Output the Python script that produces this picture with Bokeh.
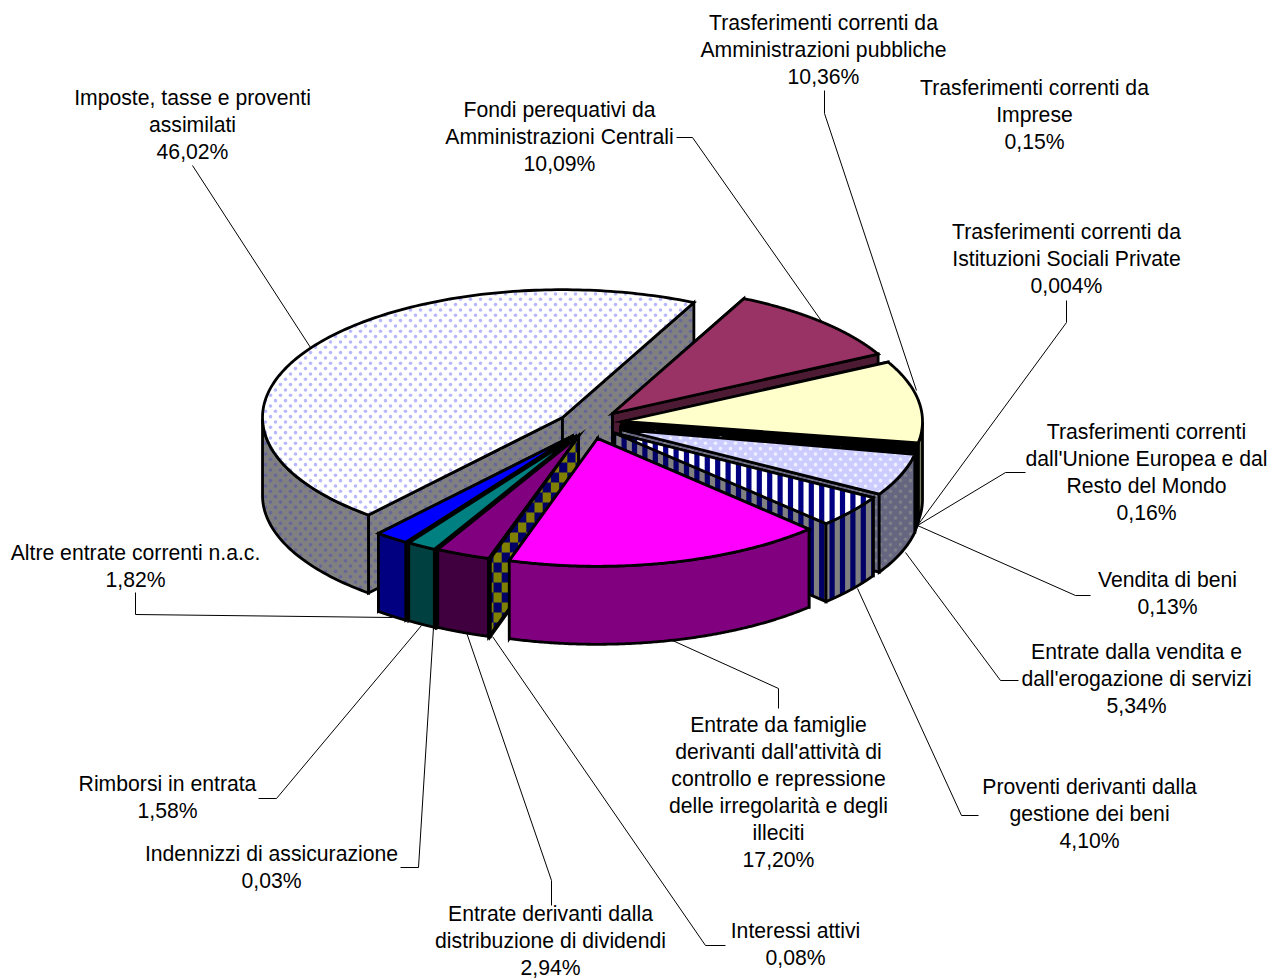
import numpy as np
from bokeh.plotting import figure
from bokeh.embed import file_html
from bokeh.resources import INLINE
from bokeh.core.properties import value

# ---- data
categories = ["Imposte, tasse e proventi assimilati",
              "Fondi perequativi da Amministrazioni Centrali",
              "Trasferimenti correnti da Amministrazioni pubbliche",
              "Trasferimenti correnti da Imprese",
              "Trasferimenti correnti da Istituzioni Sociali Private",
              "Trasferimenti correnti dall'Unione Europea e dal Resto del Mondo",
              "Vendita di beni",
              "Entrate dalla vendita e dall'erogazione di servizi",
              "Proventi derivanti dalla gestione dei beni",
              "Entrate da famiglie derivanti dall'attività di controllo e repressione delle irregolarità e degli illeciti",
              "Interessi attivi",
              "Entrate derivanti dalla distribuzione di dividendi",
              "Indennizzi di assicurazione",
              "Rimborsi in entrata",
              "Altre entrate correnti n.a.c."]
shares = [46.02, 10.09, 10.36, 0.15, 0.004, 0.16, 0.13, 5.34, 4.10, 17.20, 0.08, 2.94, 0.03, 1.58, 1.82]
share_labels = ["46,02%", "10,09%", "10,36%", "0,15%", "0,004%", "0,16%", "0,13%", "5,34%", "4,10%",
                "17,20%", "0,08%", "2,94%", "0,03%", "1,58%", "1,82%"]

# ---- layout (pixel coordinates of the page)
label_lines = [["Imposte, tasse e proventi", "assimilati"],
               ["Fondi perequativi da", "Amministrazioni Centrali"],
               ["Trasferimenti correnti da", "Amministrazioni pubbliche"],
               ["Trasferimenti correnti da", "Imprese"],
               ["Trasferimenti correnti da", "Istituzioni Sociali Private"],
               ["Trasferimenti correnti", "dall'Unione Europea e dal", "Resto del Mondo"],
               ["Vendita di beni"],
               ["Entrate dalla vendita e", "dall'erogazione di servizi"],
               ["Proventi derivanti dalla", "gestione dei beni"],
               ["Entrate da famiglie", "derivanti dall'attività di", "controllo e repressione", "delle irregolarità e degli", "illeciti"],
               ["Interessi attivi"],
               ["Entrate derivanti dalla", "distribuzione di dividendi"],
               ["Indennizzi di assicurazione"],
               ["Rimborsi in entrata"],
               ["Altre entrate correnti n.a.c."]]
label_cx = [192, 559, 823, 1034, 1066, 1146, 1167, 1136, 1089, 778, 795, 550, 271, 167, 135]
label_top = [97, 109, 22, 87, 231, 431, 579, 651, 786, 724, 930, 913, 853, 783, 552]
LINE_H = 26.9
leaders = [[(192, 165), (310, 347)],
           [(676, 137), (692, 137), (822, 322)],
           [(824, 90), (824, 113), (916, 390)],
           None,
           [(1066, 300), (1066, 322), (917, 525)],
           [(1025, 472), (1005, 472), (917, 525)],
           [(1090, 595), (1075, 595), (917, 525)],
           [(1018, 680), (1000, 680), (905, 552)],
           [(978, 815), (961, 815), (857, 588)],
           [(778, 708), (778, 688), (672, 640)],
           [(725, 945), (705, 945), (492, 636)],
           [(551, 905), (551, 880), (466, 632)],
           [(400, 867), (418, 867), (433, 627)],
           [(258, 798), (276, 798), (421, 625)],
           [(135, 592), (135, 614), (392, 617)]]
apex = [(562, 417), (612, 413), (622, 421), (621.5, 423), (621, 424.5), (620.5, 426), (620, 427.5),
        (620, 429), (614, 432.5), (597, 438), (578, 436), (578, 436), (577, 436), (575, 436), (572, 435.5)]
RX, RY, DEPTH = 300.0, 127.8, 78.0
START_ANGLE = 229.7
paint_order = [0, 1, 2, 3, 4, 5, 6, 7, 8, 14, 13, 12, 11, 10, 9]

# (top fill, top pattern, top pattern colour, side fill, side pattern, side pattern colour)
styles = [("#FFFFFF", "dots", "#B8B8FC", "#808080", "dots", "#66669A"),
          ("#993366", None, None, "#4D1A33", None, None),
          ("#FFFFCC", None, None, "#808066", None, None),
          ("#000000", None, None, "#000000", None, None),
          ("#000000", None, None, "#000000", None, None),
          ("#000000", None, None, "#000000", None, None),
          ("#000000", None, None, "#000000", None, None),
          ("#CCCCFF", "dots", "#F0F0FF", "#666680", "dots", "#808088"),
          ("#FFFFFF", "stripes", "#000080", "#808080", "stripes", "#000066"),
          ("#FF00FF", None, None, "#800080", None, None),
          ("#000080", "check", "#808000", "#000066", "check", "#808000"),
          ("#800080", None, None, "#400040", None, None),
          ("#000000", None, None, "#000000", None, None),
          ("#008080", None, None, "#004040", None, None),
          ("#0000FF", None, None, "#000080", None, None)]

p = figure(width=1272, height=980, x_range=(0, 1272), y_range=(980, 0), output_backend="svg",
           toolbar_location=None, min_border=0, outline_line_color=None, background_fill_color="white")
p.axis.visible = False
p.grid.visible = False


def clip_rect(xs, ys, x0, x1, y0, y1):
    """Sutherland-Hodgman clip of a polygon to a rectangle."""
    pts = list(zip(xs, ys))
    for axis, lim, keep_less in ((0, x0, False), (0, x1, True), (1, y0, False), (1, y1, True)):
        out = []
        for k in range(len(pts)):
            a, b = pts[k - 1], pts[k]
            ia = a[axis] <= lim if keep_less else a[axis] >= lim
            ib = b[axis] <= lim if keep_less else b[axis] >= lim
            if ia != ib:
                f = (lim - a[axis]) / (b[axis] - a[axis])
                out.append((a[0] + f * (b[0] - a[0]), a[1] + f * (b[1] - a[1])))
            if ib:
                out.append(b)
        pts = out
        if not pts:
            return None
    return [q[0] for q in pts], [q[1] for q in pts]


def inside(px, py, xs, ys):
    xs, ys = np.asarray(xs), np.asarray(ys)
    x2, y2 = np.roll(xs, 1), np.roll(ys, 1)
    c = np.zeros(px.shape, dtype=bool)
    for a, b, d, e in zip(xs, ys, x2, y2):
        if b == e:
            continue
        c ^= ((b > py) != (e > py)) & (px < (d - a) * (py - b) / (e - b) + a)
    return c


def draw(xs, ys, fill, pattern, color):
    xs, ys = np.asarray(xs, float), np.asarray(ys, float)
    p.patch(xs, ys, fill_color=fill, line_color=None)
    x0, x1, y0, y1 = xs.min(), xs.max(), ys.min(), ys.max()
    if pattern == "dots":
        gx, gy = [], []
        rows = np.arange(np.floor(y0 / 10.67) * 10.67, y1 + 11, 5.335)
        for r, yy in enumerate(rows):
            off = 5 * (round((yy) / 5.335) % 2)
            for xx in np.arange(np.floor(x0 / 10) * 10 + off, x1 + 10, 10):
                gx.append(xx); gy.append(yy)
        gx, gy = np.array(gx), np.array(gy)
        m = inside(gx, gy, xs, ys)
        if m.any():
            p.scatter(gx[m], gy[m], size=3.6, marker="circle", fill_color=color, line_color=None)
    elif pattern == "stripes":
        k0 = int(np.floor((x0 - 790) / 10.4)) - 1
        while 790 + k0 * 10.4 < x1 + 5:
            c = 790 + k0 * 10.4
            r = clip_rect(xs, ys, c - 2.6, c + 2.6, y0 - 1, y1 + 1)
            if r and len(r[0]) > 2:
                p.patch(r[0], r[1], fill_color=color, line_color=None)
            k0 += 1
    elif pattern == "check":
        W, H = 8.2, 10.0
        for ci in range(int(np.floor((x0 - 493) / W)), int(np.ceil((x1 - 493) / W)) + 1):
            for ri in range(int(np.floor((y0 - 572) / H)), int(np.ceil((y1 - 572) / H)) + 1):
                if (ci + ri) % 2 == 0:
                    r = clip_rect(xs, ys, 493 + ci * W, 493 + (ci + 1) * W, 572 + ri * H, 572 + (ri + 1) * H)
                    if r and len(r[0]) > 2:
                        p.patch(r[0], r[1], fill_color=color, line_color=None)
    p.patch(xs, ys, fill_color=None, line_color="black", line_width=2.8, line_join="miter")


ends = START_ANGLE - np.cumsum(shares) * 3.6
starts = np.concatenate([[START_ANGLE], ends[:-1]])

for i in paint_order:
    a1, a2 = np.radians(starts[i]), np.radians(ends[i])
    cx, cy = apex[i]
    top, thatch, thc, side, shatch, shc = styles[i]
    t = np.linspace(a1, a2, 160)
    ax, ay = cx + RX * np.cos(t), cy - RY * np.sin(t)
    for a in (a1, a2):
        ex, ey = cx + RX * np.cos(a), cy - RY * np.sin(a)
        draw([cx, ex, ex, cx], [cy, ey, ey + DEPTH, cy + DEPTH], side, shatch, shc)
    m = np.sin(t) <= 0
    if m.sum() > 1:
        draw(np.r_[ax[m], ax[m][::-1]], np.r_[ay[m], ay[m][::-1] + DEPTH], side, shatch, shc)
    draw(np.r_[cx, ax], np.r_[cy, ay], top, thatch, thc)

for pts in leaders:
    if pts:
        p.line([q[0] for q in pts], [q[1] for q in pts], line_color="black", line_width=1)

tx, ty, tt = [], [], []
for lines, pct, x0, y0 in zip(label_lines, share_labels, label_cx, label_top):
    for k, s in enumerate(lines + [pct]):
        tx.append(x0); ty.append(y0 + k * LINE_H); tt.append(s)
p.text(x=tx, y=ty, text=tt, text_font=value("Liberation Sans"), text_font_size="21.2px",
       text_align="center", text_baseline="middle", text_color="black")

open("out.html", "w").write(file_html(p, INLINE))
